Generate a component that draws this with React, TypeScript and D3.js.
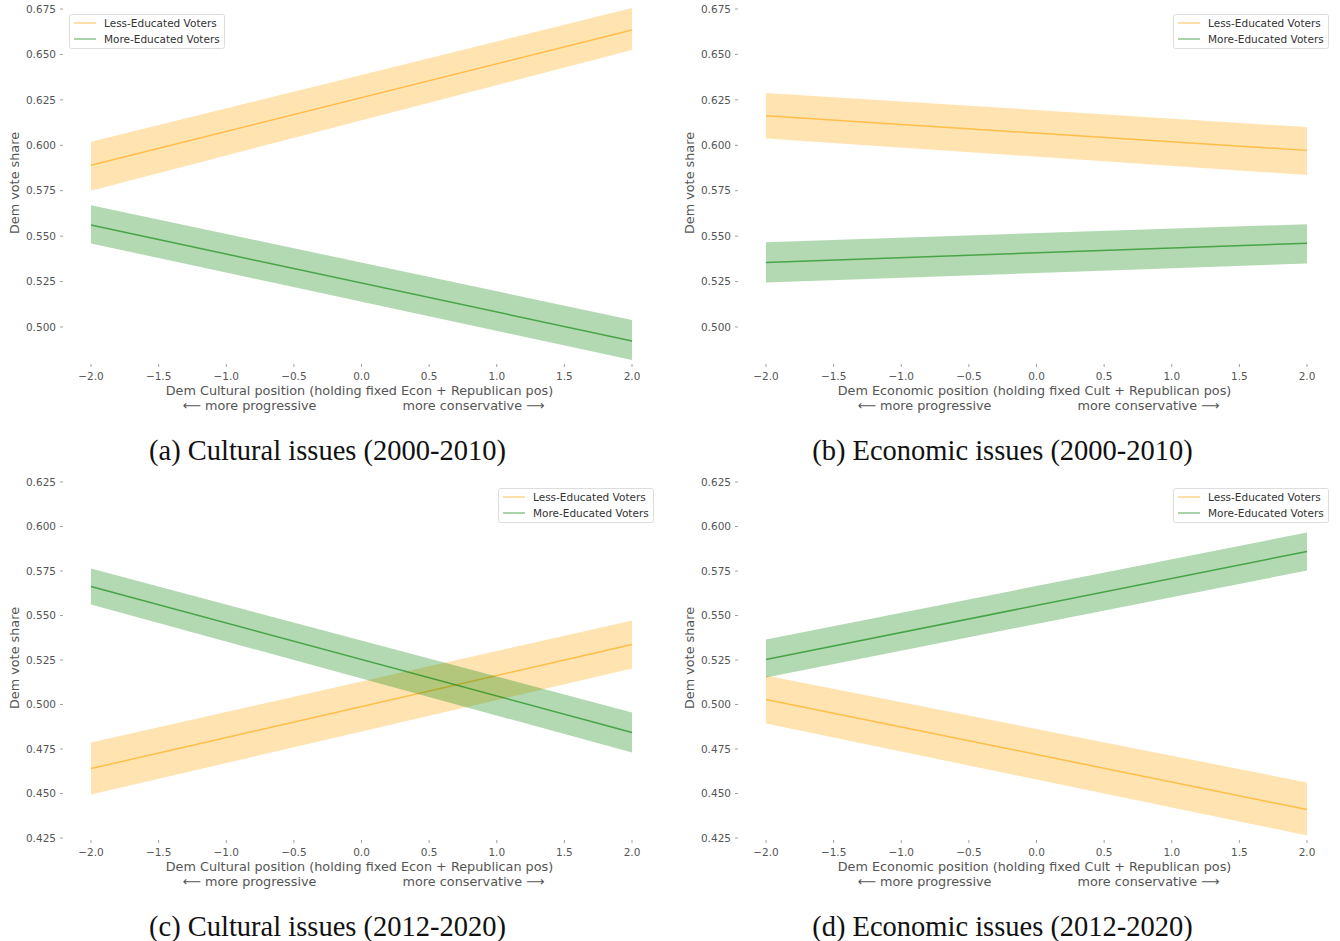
import React from 'react';
import { scaleLinear, area, line } from 'd3';

const xs = [-2, 2];
const xTicks = [-2, -1.5, -1, -0.5, 0, 0.5, 1, 1.5, 2];
const yTicksTop = [0.5, 0.525, 0.55, 0.575, 0.6, 0.625, 0.65, 0.675];
const yTicksBottom = [0.425, 0.45, 0.475, 0.5, 0.525, 0.55, 0.575, 0.6, 0.625];

// mean / lower / upper at x = -2 and x = 2
const lessCult00 = { mean: [0.589, 0.6634], lower: [0.575, 0.6524], upper: [0.602, 0.6755] };
const moreCult00 = { mean: [0.5561, 0.4923], lower: [0.546, 0.4818], upper: [0.567, 0.5039] };
const lessEcon00 = { mean: [0.6162, 0.5972], lower: [0.6038, 0.5836], upper: [0.6288, 0.61] };
const moreEcon00 = { mean: [0.5355, 0.5461], lower: [0.5245, 0.5349], upper: [0.5467, 0.5566] };
const lessCult12 = { mean: [0.464, 0.5337], lower: [0.4494, 0.5202], upper: [0.4787, 0.5472] };
const moreCult12 = { mean: [0.5663, 0.4843], lower: [0.5562, 0.473], upper: [0.5764, 0.4955] };
const lessEcon12 = { mean: [0.5028, 0.441], lower: [0.4893, 0.4264], upper: [0.5163, 0.4562] };
const moreEcon12 = { mean: [0.5253, 0.586], lower: [0.5152, 0.5753], upper: [0.5365, 0.5966] };

const seriesNames = ['Less-Educated Voters', 'More-Educated Voters'];
const ORANGE = 'rgb(255,165,0)';
const GREEN = 'rgb(0,128,0)';

const sans = 'DejaVu Sans, sans-serif';
const tickColor = '#555';

type Band = { mean: number[]; lower: number[]; upper: number[] };

type PanelProps = {
  id: string;
  left: number;
  yTicks: number[];
  yDomain: [number, number];
  yRange: [number, number];
  plotTop: number;
  plotBottom: number;
  less: Band;
  more: Band;
  xLabel: string;
  caption: string;
  legendX: number;
  legendY: number;
};

const Panel = (p: PanelProps) => {
  const x = scaleLinear().domain([-2, 2]).range([p.left + 91, p.left + 632]);
  const y = scaleLinear().domain(p.yDomain).range(p.yRange);
  const idx = xs.map((_, i) => i);

  const drawBand = (b: Band, color: string) => {
    const a = area<number>()
      .x(i => x(xs[i]))
      .y0(i => y(b.lower[i]))
      .y1(i => y(b.upper[i]));
    const l = line<number>()
      .x(i => x(xs[i]))
      .y(i => y(b.mean[i]));
    return (
      <g>
        <path d={a(idx) || ''} fill={color} fillOpacity={0.3} />
        <path d={l(idx) || ''} fill="none" stroke={color} strokeOpacity={0.6} strokeWidth={1.5} />
      </g>
    );
  };

  const xAxisY = p.plotBottom;
  const midX = x(0);
  const clipId = 'clip-' + p.id;
  return (
    <g>
      <defs>
        <clipPath id={clipId}>
          <rect x={p.left + 60} y={p.plotTop} width={610} height={p.plotBottom - p.plotTop} />
        </clipPath>
      </defs>
      <g clipPath={`url(#${clipId})`}>
        {drawBand(p.less, ORANGE)}
        {drawBand(p.more, GREEN)}
      </g>
      {p.yTicks.map(t => (
        <g key={t}>
          <line x1={p.left + 60} x2={p.left + 63} y1={y(t)} y2={y(t)} stroke="#888" strokeWidth={0.8} />
          <text x={p.left + 56} y={y(t)} dy="0.35em" textAnchor="end" fontFamily={sans} fontSize={10.5} fill={tickColor}>
            {t.toFixed(3)}
          </text>
        </g>
      ))}
      {xTicks.map(t => (
        <g key={t}>
          <line x1={x(t)} x2={x(t)} y1={xAxisY} y2={xAxisY + 3} stroke="#888" strokeWidth={0.8} />
          <text x={x(t)} y={xAxisY + 16} textAnchor="middle" fontFamily={sans} fontSize={10.5} fill={tickColor}>
            {t.toFixed(1).replace('-', '\u2212')}
          </text>
        </g>
      ))}
      <text x={midX - 2} y={xAxisY + 31} textAnchor="middle" fontFamily={sans} fontSize={12.8} fill={tickColor}>
        {p.xLabel}
      </text>
      <text x={midX - 112} y={xAxisY + 46} textAnchor="middle" fontFamily={sans} fontSize={12.8} fill={tickColor}>
        {'\u27f5 more progressive'}
      </text>
      <text x={midX + 112} y={xAxisY + 46} textAnchor="middle" fontFamily={sans} fontSize={12.8} fill={tickColor}>
        {'more conservative \u27f6'}
      </text>
      <text
        transform={`translate(${p.left + 19},${(p.plotTop + p.plotBottom) / 2}) rotate(-90)`}
        textAnchor="middle"
        fontFamily={sans}
        fontSize={12.8}
        fill={tickColor}
      >
        Dem vote share
      </text>
      <g transform={`translate(${p.legendX},${p.legendY})`}>
        <rect x={0.5} y={0.5} width={155} height={34} rx={2} fill="white" stroke="#ddd" strokeWidth={1} />
        {[ORANGE, GREEN].map((c, i) => (
          <g key={i}>
            <line x1={5} x2={27} y1={9 + i * 16} y2={9 + i * 16} stroke={c} strokeOpacity={0.45} strokeWidth={1.5} />
            <text x={35} y={9 + i * 16} dy="0.35em" fontFamily={sans} fontSize={10.5} fill="#333">
              {seriesNames[i]}
            </text>
          </g>
        ))}
      </g>
      <text x={midX - 34} y={p.plotBottom + 96} textAnchor="middle" fontFamily="Liberation Serif, DejaVu Serif, serif" fontSize={28.5} fill="#111">
        {p.caption}
      </text>
    </g>
  );
};

const App = () => {
  return (
    <svg width={1340} height={941} style={{ position: 'absolute', left: 0, top: 0, background: 'white' }}>
      <rect width={1340} height={941} fill="white" />
      <Panel
        id="a" left={0} yTicks={yTicksTop} yDomain={[0.5, 0.675]} yRange={[327, 9]}
        plotTop={2} plotBottom={364} less={lessCult00} more={moreCult00}
        xLabel="Dem Cultural position (holding fixed Econ + Republican pos)"
        caption="(a) Cultural issues (2000-2010)" legendX={69} legendY={14}
      />
      <Panel
        id="b" left={675} yTicks={yTicksTop} yDomain={[0.5, 0.675]} yRange={[327, 9]}
        plotTop={2} plotBottom={364} less={lessEcon00} more={moreEcon00}
        xLabel="Dem Economic position (holding fixed Cult + Republican pos)"
        caption="(b) Economic issues (2000-2010)" legendX={1173} legendY={14}
      />
      <Panel
        id="c" left={0} yTicks={yTicksBottom} yDomain={[0.425, 0.625]} yRange={[838, 482]}
        plotTop={476} plotBottom={840} less={lessCult12} more={moreCult12}
        xLabel="Dem Cultural position (holding fixed Econ + Republican pos)"
        caption="(c) Cultural issues (2012-2020)" legendX={498} legendY={488}
      />
      <Panel
        id="d" left={675} yTicks={yTicksBottom} yDomain={[0.425, 0.625]} yRange={[838, 482]}
        plotTop={476} plotBottom={840} less={lessEcon12} more={moreEcon12}
        xLabel="Dem Economic position (holding fixed Cult + Republican pos)"
        caption="(d) Economic issues (2012-2020)" legendX={1173} legendY={488}
      />
    </svg>
  );
};

export default App;
